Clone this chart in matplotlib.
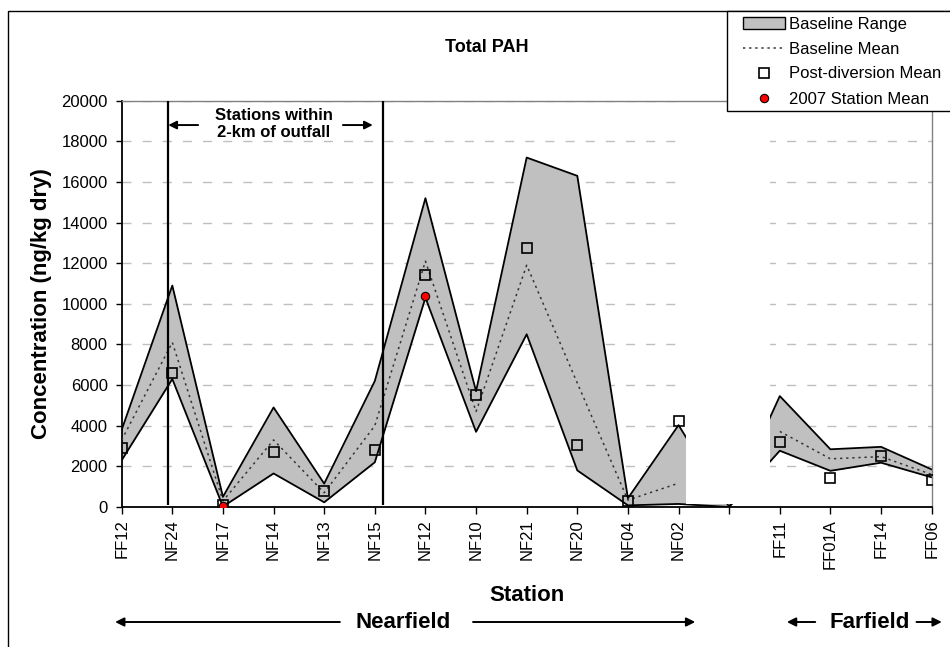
import numpy as np
import matplotlib
matplotlib.use('Agg')
import matplotlib.pyplot as plt
from matplotlib.patches import Patch, Rectangle
from matplotlib.lines import Line2D
from matplotlib import transforms

plt.rcParams['font.family'] = ['Liberation Sans', 'DejaVu Sans']

# Stations along the category axis (blank slot separates nearfield / farfield)
stations = ['FF12', 'NF24', 'NF17', 'NF14', 'NF13', 'NF15', 'NF12', 'NF10',
            'NF21', 'NF20', 'NF04', 'NF02', '', 'FF11', 'FF01A', 'FF14', 'FF06']

# Total PAH, ng/kg dry (nan = no data for that slot)
base_max = [3800, 10900, 500, 4900, 1150, 6200, 15200, 5700,
            17200, 16300, 430, 4030, 0, 5460, 2840, 2960, 1850]
base_min = [2300, 6300, 20, 1650, 230, 2200, 10300, 3700,
            8500, 1800, 80, 150, 0, 2770, 1780, 2180, 1460]
base_mean = [3300, 8100, 300, 3300, 700, 4000, 12100, 4700,
             11900, 6100, 340, 1170, np.nan, 3720, 2370, 2480, 1600]
post_mean = [2920, 6600, 120, 2700, 780, 2800, 11400, 5500,
             12750, 3050, 310, 4230, np.nan, 3200, 1430, 2490, 1340]
mean_2007 = [np.nan, np.nan, 70, np.nan, np.nan, np.nan, 10380, np.nan,
             np.nan, np.nan, np.nan, np.nan, np.nan, np.nan, np.nan, np.nan, np.nan]

x = np.arange(len(stations))
i_nf24 = stations.index('NF24')
i_nf15 = stations.index('NF15')
i_nf02 = stations.index('NF02')
i_ff11 = stations.index('FF11')

W, H = 950, 647
fig = plt.figure(figsize=(W / 100, H / 100), dpi=100)
ax = fig.add_axes([0.1281, 0.2164, 0.8526, 0.628])

# baseline range band
ax.fill_between(x, base_min, base_max, color='#C0C0C0', lw=0, zorder=1)
ax.plot(x, base_max, color='black', lw=1.3, zorder=2)
ax.plot(x, base_min, color='black', lw=1.3, zorder=2)

# white block hiding the empty slot between the two groups
ax.add_patch(Rectangle((i_nf02 + 0.15, 150), (i_ff11 - 0.2) - (i_nf02 + 0.15), 19850,
                       facecolor='white', edgecolor='none', zorder=2.5))

ax.plot(x, base_mean, color='#333333', lw=1.1, ls=(0, (1.5, 2.5)), zorder=3)
ax.plot(x, post_mean, ls='none', marker='s', ms=7.7, mfc='none', mec='black',
        mew=1.2, zorder=4)
ax.plot(x, mean_2007, ls='none', marker='o', ms=6, mfc='red', mec='black',
        mew=0.8, zorder=5)

# outfall zone
ax.vlines([i_nf24 - 0.08, i_nf15 + 0.17], 120, 20000, color='black', lw=1.6, zorder=4)
ax.text(3.0, 18850, 'Stations within\n2-km of outfall', ha='center', va='center',
        fontsize=12, fontweight='bold', linespacing=1.15)
arw = dict(arrowstyle='-|>', color='black', lw=1.4, mutation_scale=12, shrinkA=0, shrinkB=0)
ax.annotate('', xy=(i_nf24 - 0.08, 18800), xytext=(1.51, 18800), arrowprops=arw)
ax.annotate('', xy=(4.96, 18800), xytext=(4.37, 18800), arrowprops=arw)

ax.set_xlim(0, len(stations) - 1)
ax.set_ylim(0, 20000)
ax.set_yticks(np.arange(0, 20001, 2000))
ax.set_xticks(x)
ax.set_xticklabels(stations, rotation=90, fontsize=12)
ax.tick_params(axis='y', labelsize=12, direction='out', length=4.3, width=1, pad=5.8)
ax.tick_params(axis='x', direction='out', length=4.7, width=1, pad=4.3)
ax.yaxis.grid(True, color='#BFBFBF', ls=(0, (6.5, 8)), lw=1)
ax.set_axisbelow(True)
for s in ['left', 'bottom']:
    ax.spines[s].set_color('black')
    ax.spines[s].set_linewidth(1.3)
for s in ['top', 'right']:
    ax.spines[s].set_color('#808080')
    ax.spines[s].set_linewidth(1)

ax.set_ylabel('Concentration (ng/kg dry)', fontsize=16, fontweight='bold', labelpad=7)
ax.set_xlabel('Station', fontsize=16, fontweight='bold', labelpad=11)
fig.text(487 / W, 1 - 47 / H, 'Total PAH', ha='center', va='center',
         fontsize=13, fontweight='bold')

# Nearfield / Farfield brackets below the axis
tr = transforms.blended_transform_factory(ax.transData, fig.transFigure)
yb = 1 - 622 / H
arw2 = dict(arrowstyle='-|>', color='black', lw=1.4, mutation_scale=13, shrinkA=0, shrinkB=0)
ax.text(5.55, yb, 'Nearfield', transform=tr, ha='center', va='center',
        fontsize=16, fontweight='bold')
ax.annotate('', xy=(-0.13, yb), xytext=(4.31, yb), xycoords=tr, textcoords=tr,
            arrowprops=arw2, annotation_clip=False)
ax.annotate('', xy=(11.33, yb), xytext=(6.94, yb), xycoords=tr, textcoords=tr,
            arrowprops=arw2, annotation_clip=False)
ax.text(14.78, yb, 'Farfield', transform=tr, ha='center', va='center',
        fontsize=16, fontweight='bold')
ax.annotate('', xy=(13.14, yb), xytext=(13.7, yb), xycoords=tr, textcoords=tr,
            arrowprops=arw2, annotation_clip=False)
ax.annotate('', xy=(16.2, yb), xytext=(15.7, yb), xycoords=tr, textcoords=tr,
            arrowprops=arw2, annotation_clip=False)

# chart area border
fig.add_artist(Rectangle((8 / W, -0.1), 1.2, 1.1 - 11 / H, transform=fig.transFigure,
                         fill=False, ec='black', lw=1, zorder=1))

# legend box runs off the right edge of the chart
fig.add_artist(Rectangle((726.7 / W, 1 - 111 / H), 0.3, 100 / H, transform=fig.transFigure,
                         facecolor='white', ec='black', lw=1, zorder=4))
handles = [
    Patch(facecolor='#C0C0C0', edgecolor='black', lw=1),
    Line2D([], [], color='#333333', lw=1.1, ls=(0, (1.5, 2.5))),
    Line2D([], [], ls='none', marker='s', ms=7.7, mfc='white', mec='black', mew=1.2),
    Line2D([], [], ls='none', marker='o', ms=6, mfc='red', mec='black', mew=0.8),
]
labels = ['Baseline Range', 'Baseline Mean', 'Post-diversion Mean', '2007 Station Mean']
leg = fig.legend(handles, labels, loc='upper left', bbox_to_anchor=(743 / W, 1 - 16.5 / H),
                 fontsize=12, frameon=False, handlelength=2.5, handletextpad=0.25,
                 labelspacing=0.6, borderpad=0, borderaxespad=0)
leg.set_zorder(5)

fig.savefig('out.png', dpi=100)
